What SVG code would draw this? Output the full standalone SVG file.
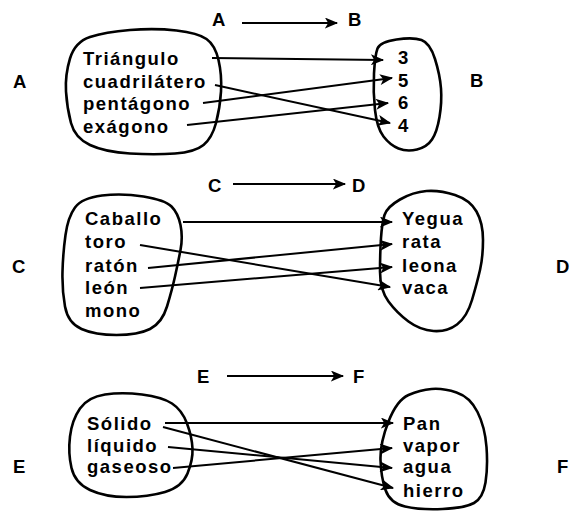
<svg xmlns="http://www.w3.org/2000/svg" width="573" height="513" viewBox="0 0 573 513">
<style>
text{font-family:"Liberation Sans",Arial,sans-serif;font-size:18.5px;font-weight:bold;letter-spacing:1.5px;fill:#000}
.blob{fill:none;stroke:#000;stroke-width:2.6;stroke-linejoin:round}
.con{fill:none;stroke:#000;stroke-width:2;marker-end:url(#ah)}
</style>
<defs>
<marker id="ah" viewBox="0 0 12 10" refX="11" refY="5" markerWidth="14" markerHeight="11" markerUnits="userSpaceOnUse" orient="auto">
<path d="M0,0 L12,5 L0,10 L3,5 Z" fill="#000"/>
</marker>
</defs>
<rect width="573" height="513" fill="#fff"/>

<g id="titles">
<text x="212" y="26">A</text><text x="348" y="26">B</text>
<text x="208" y="192">C</text><text x="352" y="192">D</text>
<text x="197" y="383">E</text><text x="353" y="383">F</text>
<text x="13" y="88">A</text><text x="470" y="87">B</text>
<text x="12" y="273">C</text><text x="556" y="273">D</text>
<text x="13" y="473">E</text><text x="557" y="473">F</text>
</g>

<g id="setA">
<path class="blob" d="M90,37 Q105,32 130,30 Q155,28 176.5,30.5 Q198,33 206.5,39 Q215,45 218.5,60 Q222,75 221,91.5 Q220,108 216,123 Q212,138 203.5,145 Q195,152 175,153.5 Q155,155 130,153.5 Q105,152 90,145 Q75,138 71,123 Q67,108 66,91.5 Q65,75 70,58.5 Q75,42 90,37 Z"/>
<text x="83" y="65">Triángulo</text>
<text x="83" y="88">cuadrilátero</text>
<text x="83" y="110">pentágono</text>
<text x="83" y="133">exágono</text>
</g>
<g id="setB">
<path class="blob" d="M396.5,39.5 Q413,37 421.5,40 Q430,43 435,59 Q440,75 441,88.5 Q442,102 439.5,117 Q437,132 432,139.5 Q427,147 417,149.5 Q407,152 398.5,148.5 Q390,145 383.5,136.5 Q377,128 375,110 Q373,92 374,73.5 Q375,55 377.5,48.5 Q380,42 396.5,39.5 Z"/>
<text x="398" y="64">3</text>
<text x="398" y="87">5</text>
<text x="398" y="109">6</text>
<text x="398" y="132">4</text>
</g>
<g id="setC">
<path class="blob" d="M102,195.5 Q122,193 143.5,196.5 Q165,200 171.5,206.5 Q178,213 180.5,225 Q183,237 180.5,250 Q178,263 175,276.5 Q172,290 167,306.5 Q162,323 150,329 Q138,335 116.5,335 Q95,335 81.5,329 Q68,323 65,306.5 Q62,290 62.5,271.5 Q63,253 65.5,235 Q68,217 75,207.5 Q82,198 102,195.5 Z"/>
<text x="85" y="225">Caballo</text>
<text x="85" y="248">toro</text>
<text x="85" y="272">ratón</text>
<text x="85" y="294">león</text>
<text x="85" y="317">mono</text>
</g>
<g id="setD">
<path class="blob" d="M400,199.5 Q413,192 426.5,191 Q440,190 455,195 Q470,200 476.5,211.5 Q483,223 483,240 Q483,257 480,270 Q477,283 472,300 Q467,317 457,324.5 Q447,332 433.5,331 Q420,330 408.5,321.5 Q397,313 388.5,301.5 Q380,290 380,271.5 Q380,253 381,238 Q382,223 384.5,215 Q387,207 400,199.5 Z"/>
<text x="402" y="225">Yegua</text>
<text x="402" y="248">rata</text>
<text x="402" y="272">leona</text>
<text x="402" y="294">vaca</text>
</g>
<g id="setE">
<path class="blob" d="M105,394.5 Q122,392 142,394.5 Q162,397 172,403.5 Q182,410 187,423.5 Q192,437 192.5,448.5 Q193,460 187.5,473.5 Q182,487 165,492 Q148,497 126.5,497 Q105,497 90,490 Q75,483 71.5,468 Q68,453 70,436.5 Q72,420 80,408.5 Q88,397 105,394.5 Z"/>
<text x="87" y="430">Sólido</text>
<text x="87" y="452">líquido</text>
<text x="87" y="473">gaseoso</text>
</g>
<g id="setF">
<path class="blob" d="M408.5,395 Q420,390 431.5,389 Q443,388 456.5,392.5 Q470,397 477.5,412 Q485,427 486.5,447 Q488,467 485.5,482.5 Q483,498 474,503 Q465,508 442.5,509 Q420,510 405,506.5 Q390,503 385.5,490 Q381,477 380.5,460 Q380,443 388.5,421.5 Q397,400 408.5,395 Z"/>
<text x="403" y="430">Pan</text>
<text x="403" y="452">vapor</text>
<text x="403" y="473">agua</text>
<text x="403" y="497">hierro</text>
</g>

<g id="connectors">
<line class="con" x1="242" y1="23" x2="337" y2="23"/>
<line class="con" x1="233" y1="184" x2="345" y2="184"/>
<line class="con" x1="227" y1="376" x2="343" y2="376"/>
<line class="con" x1="212" y1="58" x2="383" y2="60"/>
<line class="con" x1="215" y1="85" x2="390" y2="123"/>
<line class="con" x1="203" y1="103" x2="392" y2="78"/>
<line class="con" x1="187" y1="125" x2="388" y2="103"/>
<line class="con" x1="183" y1="222" x2="392" y2="222"/>
<line class="con" x1="140" y1="245" x2="390" y2="287"/>
<line class="con" x1="148" y1="268" x2="392" y2="244"/>
<line class="con" x1="140" y1="288" x2="392" y2="267"/>
<line class="con" x1="165" y1="423" x2="393" y2="423"/>
<line class="con" x1="163" y1="427" x2="393" y2="488"/>
<line class="con" x1="168" y1="447" x2="392" y2="468"/>
<line class="con" x1="173" y1="468" x2="392" y2="448"/>
</g>
</svg>
